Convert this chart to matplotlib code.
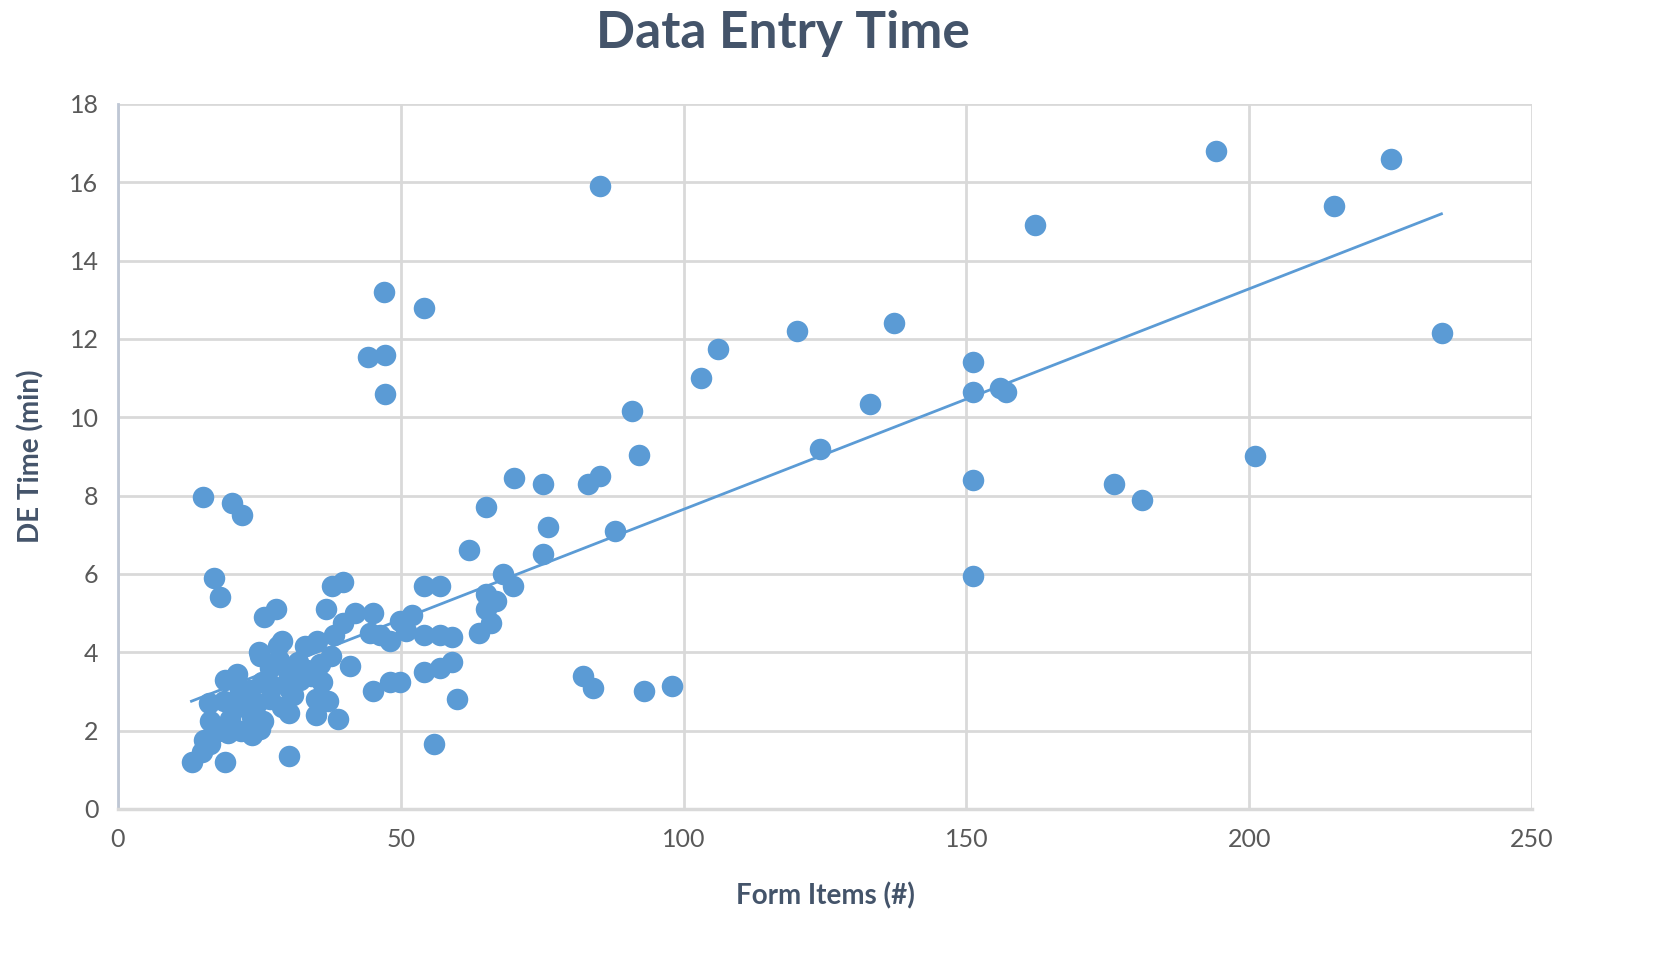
import numpy as np
import matplotlib.pyplot as plt

# Form items (#) vs data entry time (min)
form_items = [
    15.0, 20.2, 21.9, 17.0, 18.0, 13.1, 18.9, 30.2, 55.9,
    47.0, 54.1, 44.2, 47.2, 47.2, 85.2, 194.1, 225.1, 215.0, 162.1, 234.1,
    120.0, 137.2, 106.1, 103.1, 151.2, 151.2, 156.0, 157.0, 133.0, 90.9,
    92.1, 124.1, 201.0, 151.2, 176.1, 181.0, 151.2,
    70.0, 75.1, 83.1, 85.2, 65.1, 76.0, 87.9, 62.1, 75.1, 68.1, 69.9,
    65.1, 66.9, 65.1, 66.0, 63.9, 54.1, 56.9, 37.8, 39.8, 36.8, 41.9,
    45.1, 52.0, 49.9, 39.8, 51.0, 54.1, 56.9, 59.1, 44.6, 46.3, 48.1,
    38.2, 35.2, 33.1, 29.0, 24.9, 25.1, 28.5, 37.6, 35.7, 41.0, 32.2,
    54.1, 56.9, 59.1, 30.2, 34.1, 21.0, 18.9, 25.5, 23.3, 22.1, 48.1,
    49.9, 45.1, 35.0, 37.1, 59.9, 16.1, 18.7, 26.9, 29.0, 30.2, 35.0,
    38.9, 25.7, 23.7, 19.8, 16.3, 21.7, 19.5, 23.7, 25.1, 15.2, 16.3,
    14.9, 82.2, 84.0, 93.0, 97.9, 27.9, 25.8, 28.3, 26.9, 30.4, 32.2,
    20.5, 22.8, 27.5, 31.0, 33.5, 24.5, 21.5, 36.0, 31.8, 17.8,
]
de_time = [
    7.97, 7.8, 7.5, 5.9, 5.4, 1.2, 1.2, 1.35, 1.66,
    13.2, 12.8, 11.55, 11.6, 10.6, 15.9, 16.8, 16.6, 15.4, 14.9, 12.15,
    12.2, 12.4, 11.75, 11.0, 11.4, 10.65, 10.75, 10.65, 10.35, 10.15,
    9.05, 9.2, 9.0, 8.4, 8.3, 7.9, 5.95,
    8.45, 8.3, 8.3, 8.5, 7.7, 7.2, 7.1, 6.6, 6.5, 6.0, 5.7,
    5.5, 5.3, 5.1, 4.75, 4.5, 5.7, 5.7, 5.7, 5.8, 5.1, 5.0,
    5.0, 4.95, 4.8, 4.75, 4.55, 4.45, 4.45, 4.4, 4.5, 4.45, 4.3,
    4.45, 4.3, 4.15, 4.3, 4.0, 3.9, 3.8, 3.9, 3.7, 3.65, 3.6,
    3.5, 3.6, 3.75, 3.4, 3.4, 3.45, 3.3, 3.25, 3.05, 2.85, 3.25,
    3.25, 3.0, 2.8, 2.75, 2.8, 2.7, 2.75, 2.8, 2.6, 2.45, 2.4,
    2.3, 2.25, 2.35, 2.3, 2.25, 2.0, 1.95, 1.9, 2.05, 1.75, 1.65,
    1.45, 3.4, 3.1, 3.0, 3.15, 5.1, 4.9, 4.15, 3.6, 3.05, 3.3,
    2.55, 2.6, 3.15, 2.9, 3.55, 2.7, 3.0, 3.25, 3.75, 2.0,
]

# linear trendline
trend_x = [13, 234]
trend_slope = 0.0563
trend_intercept = 2.02

blue = '#5B9BD5'
grid_c = '#D9D9D9'
text_c = '#595959'
title_c = '#44546A'

plt.rcParams['font.family'] = ['Lato', 'DejaVu Sans']

fig = plt.figure(figsize=(16.59, 9.67), dpi=100)
ax = fig.add_axes([0.0711, 0.1634, 0.8523, 0.7291])

ax.scatter(form_items, de_time, s=240, color=blue, zorder=3, linewidths=0)
tx = np.array(trend_x)
ax.plot(tx, trend_slope * tx + trend_intercept, color=blue, lw=2, zorder=2)

ax.set_xlim(0, 250)
ax.set_ylim(0, 18)
ax.set_xticks(range(0, 251, 50))
ax.set_yticks(range(0, 19, 2))
ax.grid(True, color=grid_c, lw=2, zorder=0)
ax.set_axisbelow(True)
for s in ['top', 'right']:
    ax.spines[s].set_visible(False)
ax.spines['left'].set_color('#BFC7D5')
ax.spines['left'].set_linewidth(2)
ax.spines['bottom'].set_color('#D9D9D9')
ax.spines['bottom'].set_linewidth(2.5)
ax.tick_params(length=0, labelsize=18, labelcolor=text_c, pad=14)

ax.set_xlabel('Form Items (#)', fontsize=20, fontweight='bold', color=title_c, labelpad=22)
ax.set_ylabel('DE Time (min)', fontsize=20, fontweight='bold', color=title_c, labelpad=18)
fig.suptitle('Data Entry Time', x=0.472, y=0.99, fontsize=37, fontweight='bold', color=title_c)

fig.savefig('out.png', dpi=100)
